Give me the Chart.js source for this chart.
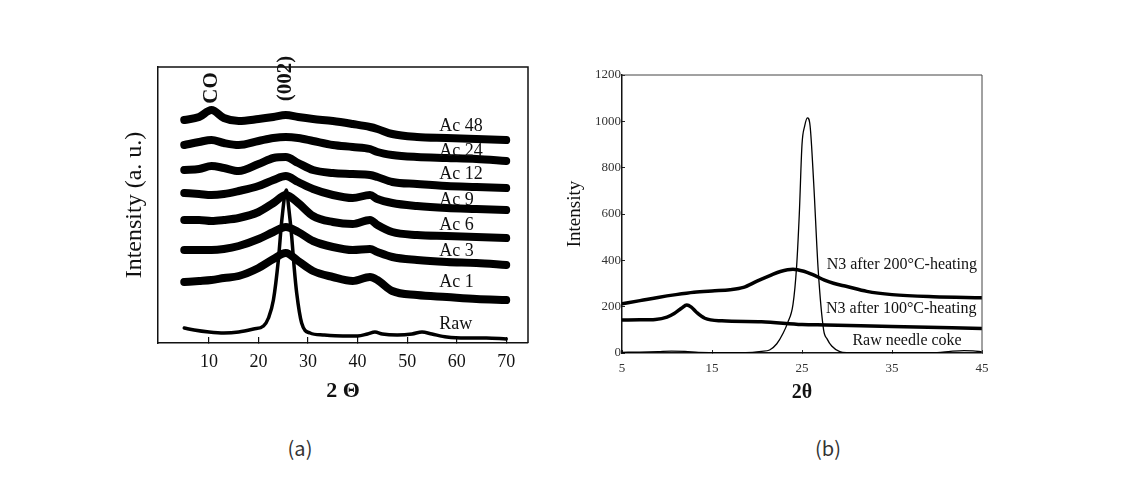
<!DOCTYPE html>
<html><head><meta charset="utf-8">
<script src="https://cdn.jsdelivr.net/npm/chart.js@4.4.1/dist/chart.umd.min.js"></script>
<style>
html,body{margin:0;padding:0;background:#fff;width:1131px;height:480px;overflow:hidden;position:relative}
#ca{position:absolute;left:100px;top:40px}
#cb{position:absolute;left:560px;top:40px}
.cap{position:absolute;top:433px;font:20px "Noto Sans CJK KR";color:#333;transform:translateX(-50%)}
</style></head><body>
<canvas id="ca" width="440" height="380"></canvas>
<canvas id="cb" width="440" height="390"></canvas>
<div class="cap" style="left:300px">(a)</div>
<div class="cap" style="left:828px">(b)</div>
<script>
// ---------- Panel (a) data ----------
const ticksA = [10, 20, 30, 40, 50, 60, 70];
const xAc = [5, 8, 10.5, 13, 16, 20, 23, 25.5, 28, 31, 35, 39, 42.5, 44, 47, 52, 58, 64, 70];
const ac1  = [61, 62, 63, 65, 67, 75, 84, 90, 82, 72, 66, 62, 66, 63, 52, 48, 46, 44, 43];
const ac3  = [93, 93, 93, 94, 97, 104, 111, 116, 111, 102, 96, 93, 94, 91, 86, 83, 81, 80, 78];
const ac6  = [123, 123, 122, 123, 125, 131, 140, 148, 140, 127, 121, 119, 123, 118, 111, 108, 107, 106, 105];
const ac9  = [150, 149, 148, 149, 152, 157, 163, 167, 161, 154, 148, 145, 148, 144, 140, 137, 135, 134, 133];
const ac12 = [173, 174, 177, 175, 172, 179, 185, 186, 180, 173, 170, 169, 168, 166, 161, 159, 157, 156, 155];
const ac24 = [198, 201, 203, 200, 198, 202, 205, 206, 205, 202, 198, 196, 194, 191, 188, 186, 185, 184, 182];
const ac48 = [223, 226, 233, 225, 222, 224, 226, 228, 226, 224, 222, 219, 216, 214, 209, 206, 205, 204, 203];
const xRawA = [5, 7, 10, 13, 16, 19, 21, 22, 23, 24, 24.7, 25.6, 26.1, 26.7, 27.2, 27.7, 28.7, 30.4, 33, 37, 40, 42, 43.5, 45, 48, 51, 53, 55, 58, 62, 66, 70];
const rawA  = [15, 13, 11, 10, 11, 14, 17, 25, 43, 83, 123, 153, 135, 106, 75, 50, 20, 10, 8, 7, 7, 9, 11, 9, 8, 9, 11, 9, 6, 5, 5, 4];
const namesA = ['Raw', 'Ac 1', 'Ac 3', 'Ac 6', 'Ac 9', 'Ac 12', 'Ac 24', 'Ac 48'];

// ---------- Panel (b) data ----------
const ticksBx = [5, 15, 25, 35, 45];
const ticksBy = [0, 200, 400, 600, 800, 1000, 1200];
const x200 = [5, 7, 9, 11, 13, 15, 17, 18.5, 20, 21.5, 22.6, 24, 25.2, 26.2, 27.5, 28.5, 30, 32.2, 35, 39.6, 45];
const n200 = [213, 226, 240, 252, 262, 268, 273, 283, 310, 335, 352, 362, 353, 338, 315, 301, 287, 266, 252, 243, 239];
const x100 = [5, 7, 8.7, 10, 10.8, 11.6, 12.2, 12.7, 13.3, 14.2, 16.1, 20.5, 25, 27.7, 35, 45];
const n100 = [142, 143, 145, 155, 170, 193, 207, 198, 175, 150, 139, 135, 123, 121, 114, 106];
const xRawB = [5, 7, 9, 10.5, 12, 13.5, 16, 18, 19.5, 20.5, 21.4, 22.2, 22.9, 23.4, 24, 24.4, 24.7, 25, 25.3, 25.6, 25.9, 26.3, 26.8, 27.4, 27.8, 28.3, 29.2, 30, 35, 40, 41.5, 43, 44, 45];
const rawB  = [3, 4, 6, 8, 7, 3, 1, 1, 3, 7, 13, 40, 85, 130, 210, 373, 600, 900, 980, 1015, 980, 733, 358, 100, 60, 30, 6, 2, 1, 2, 7, 10, 9, 5];
const namesB = ['N3 after 200°C-heating', 'N3 after 100°C-heating', 'Raw needle coke'];

const pts = (xs, ys) => xs.map((x, i) => ({x, y: ys[i]}));
const serif = 'Liberation Serif, Times New Roman, serif';

const framePlugin = {
  id: 'frame',
  afterDraw(chart, args, opts) {
    const {ctx, chartArea: a, scales} = chart;
    ctx.save();
    ctx.strokeStyle = opts.color; ctx.lineWidth = opts.width;
    ctx.beginPath(); ctx.moveTo(a.left, a.top); ctx.lineTo(a.right, a.top); ctx.lineTo(a.right, a.bottom); ctx.stroke();
    (opts.labels || []).forEach(l => {
      const px = scales.x.getPixelForValue(l.x), py = scales.y.getPixelForValue(l.y);
      ctx.save(); ctx.translate(px, py); if (l.rot) ctx.rotate(l.rot);
      ctx.font = l.font; ctx.fillStyle = '#111'; ctx.textAlign = l.align || 'left'; ctx.textBaseline = 'middle';
      ctx.fillText(l.text, 0, 0); ctx.restore();
    });
    ctx.restore();
  }
};

const lineDs = (data, w) => ({data, borderColor: '#000', borderWidth: w, pointRadius: 0, fill: false,
  cubicInterpolationMode: 'monotone', borderJoinStyle: 'round', borderCapStyle: 'round'});

// ---------- Chart (a) ----------
const seriesA = [rawA, ac1, ac3, ac6, ac9, ac12, ac24, ac48];
const labelYA = [18.7, 60.3, 92, 118, 143, 169, 191.3, 217];
new Chart(document.getElementById('ca'), {
  type: 'line',
  data: {datasets: seriesA.map((s, i) => i === 0 ? lineDs(pts(xRawA, s), 3.5) : lineDs(pts(xAc, s), 8))},
  options: {
    responsive: false, animation: false,
    layout: {padding: {top: 27, right: 12, left: 0, bottom: 0}},
    plugins: {legend: {display: false}, tooltip: {enabled: false},
      frame: {color: '#111', width: 1.5, labels: [
        ...namesA.map((t, i) => ({text: t, x: 56.5, y: labelYA[i], font: '18px ' + serif})),
        {text: 'CO', x: 10.6, y: 255, rot: -Math.PI / 2, align: 'center', font: 'bold 21px ' + serif},
        {text: '(002)', x: 25.4, y: 264.5, rot: -Math.PI / 2, align: 'center', font: 'bold 21px ' + serif}
      ]}},
    scales: {
      x: {type: 'linear', min: -0.3, max: 74.4,
        afterBuildTicks: s => { s.ticks = ticksA.map(v => ({value: v})); },
        afterFit: s => { s.height = 77; },
        border: {display: true, color: '#111', width: 1.5},
        grid: {display: true, drawOnChartArea: false, drawTicks: true, tickLength: -6, color: '#111', lineWidth: 1.2},
        ticks: {padding: 14, color: '#111', font: {family: serif, size: 18}, maxRotation: 0, autoSkip: false,
          callback: v => String(v)},
        title: {display: true, text: '2 Θ', color: '#111', font: {family: serif, size: 22, weight: 'bold'}, padding: {top: 0, bottom: 15}}
      },
      y: {type: 'linear', min: 0, max: 276,
        afterFit: s => { s.width = 58; },
        border: {display: true, color: '#111', width: 1.5},
        grid: {display: false}, ticks: {display: false},
        title: {display: true, text: 'Intensity (a. u.)', color: '#111', font: {family: serif, size: 24}, padding: {top: 20, bottom: 0}}
      }
    }
  },
  plugins: [framePlugin]
});

// ---------- Chart (b) ----------
new Chart(document.getElementById('cb'), {
  type: 'line',
  data: {datasets: [
    lineDs(pts(x200, n200), 3.5),
    lineDs(pts(x100, n100), 3.5),
    lineDs(pts(xRawB, rawB), 1.3)
  ]},
  options: {
    responsive: false, animation: false,
    layout: {padding: {top: 35, right: 18, left: 0, bottom: 0}},
    plugins: {legend: {display: false}, tooltip: {enabled: false},
      frame: {color: '#444', width: 1, labels: [
        {text: namesB[0], x: 27.74, y: 380, font: '16px ' + serif},
        {text: namesB[1], x: 27.67, y: 190, font: '16px ' + serif},
        {text: namesB[2], x: 30.6, y: 53, font: '16px ' + serif}
      ]}},
    scales: {
      x: {type: 'linear', min: 5, max: 45,
        afterBuildTicks: s => { s.ticks = ticksBx.map(v => ({value: v})); },
        afterFit: s => { s.height = 77; },
        border: {display: true, color: '#111', width: 1.5},
        grid: {display: true, drawOnChartArea: false, drawTicks: true, tickLength: -3, color: '#222', lineWidth: 1},
        ticks: {padding: 11, color: '#333', font: {family: serif, size: 13}, maxRotation: 0, autoSkip: false,
          callback: v => String(v)},
        title: {display: true, text: '2θ', color: '#111', font: {family: serif, size: 20, weight: 'bold'}, padding: {top: 0, bottom: 25}}
      },
      y: {type: 'linear', min: 0, max: 1200,
        afterBuildTicks: s => { s.ticks = ticksBy.map(v => ({value: v})); },
        afterFit: s => { s.width = 62; },
        border: {display: true, color: '#111', width: 1.5},
        grid: {display: true, drawOnChartArea: false, drawTicks: true, tickLength: -3, color: '#222', lineWidth: 1},
        ticks: {padding: 4, color: '#333', font: {family: serif, size: 13}, autoSkip: false,
          callback: v => String(v)},
        title: {display: true, text: 'Intensity', color: '#111', font: {family: serif, size: 19}, padding: {top: 3.6, bottom: 0}}
      }
    }
  },
  plugins: [framePlugin]
});
</script>
</body></html>
